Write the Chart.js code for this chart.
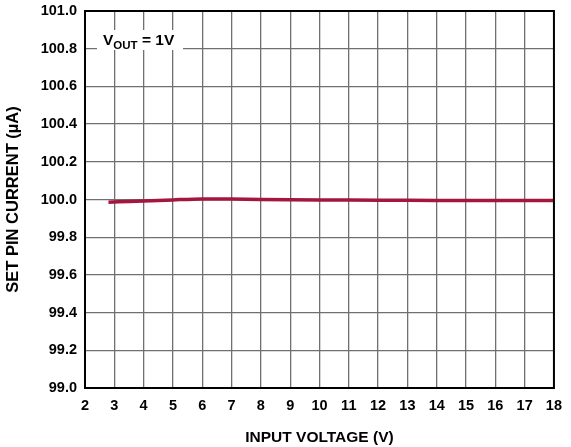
<!DOCTYPE html>
<html>
<head>
<meta charset="utf-8">
<script src="https://cdn.jsdelivr.net/npm/chart.js@4"></script>
<style>
  html, body { margin: 0; padding: 0; background: #fff; }
  #wrap { width: 571px; height: 447px; }
</style>
</head>
<body>
<div id="wrap"><canvas id="chart" width="571" height="447"></canvas></div>
<script>
// input voltage (V) vs set pin current (uA)
const inputVoltage = [2.8, 3.5, 4, 5, 6, 7, 8, 10, 12, 14, 16, 18];
const setPinCurrent = [99.986, 99.989, 99.992, 99.998, 100.003, 100.002, 100.0, 99.998, 99.996, 99.995, 99.995, 99.995];
const xTicks = [2, 3, 4, 5, 6, 7, 8, 9, 10, 11, 12, 13, 14, 15, 16, 17, 18];
const yTicks = [99.0, 99.2, 99.4, 99.6, 99.8, 100.0, 100.2, 100.4, 100.6, 100.8, 101.0];

const FONT = "'Liberation Sans', Arial, sans-serif";

// white box with V_OUT = 1V in the top-left corner
const noteLabel = {
  id: 'noteLabel',
  afterDraw(chart) {
    const ctx = chart.ctx;
    const a = chart.chartArea;
    const x0 = a.left + 12, y0 = a.top + 19;
    ctx.save();
    ctx.fillStyle = '#fff';
    ctx.fillRect(x0, y0, 86, 20);
    ctx.fillStyle = '#000';
    ctx.textBaseline = 'alphabetic';
    ctx.font = 'bold 15.5px ' + FONT;
    ctx.fillText('V', x0 + 6, y0 + 15);
    const vw = ctx.measureText('V').width;
    ctx.font = 'bold 11.5px ' + FONT;
    ctx.fillText('OUT', x0 + 6 + vw, y0 + 19);
    const ow = ctx.measureText('OUT').width;
    ctx.font = 'bold 15.5px ' + FONT;
    ctx.fillText(' = 1V', x0 + 6 + vw + ow, y0 + 15);
    ctx.restore();
  }
};

new Chart(document.getElementById('chart').getContext('2d'), {
  type: 'line',
  data: {
    datasets: [{
      data: inputVoltage.map((v, i) => ({ x: v, y: setPinCurrent[i] })),
      borderColor: '#a3173f',
      borderWidth: 3.5,
      pointRadius: 0,
      fill: false,
      tension: 0.3
    }]
  },
  options: {
    responsive: false,
    animation: false,
    layout: { padding: { top: 0, right: 15, left: 4, bottom: 0 } },
    plugins: { legend: { display: false }, tooltip: { enabled: false } },
    scales: {
      x: {
        type: 'linear',
        min: 2, max: 18,
        afterBuildTicks: s => { s.ticks = xTicks.map(v => ({ value: v })); },
        afterFit: s => { s.height = 59; },
        grid: { color: '#707070', lineWidth: 1.3, drawTicks: false },
        border: { color: '#000', width: 2 },
        ticks: { color: '#000', padding: 9, maxRotation: 0, font: { family: FONT, size: 14.5, weight: 'bold' } },
        title: { display: true, text: 'INPUT VOLTAGE (V)', color: '#000', padding: { top: 18, bottom: 0 }, font: { family: FONT, size: 15.5, weight: 'bold' } }
      },
      y: {
        min: 99.0, max: 101.0,
        afterBuildTicks: s => { s.ticks = yTicks.map(v => ({ value: v })); },
        afterFit: s => { s.width = 81; s.paddingTop = 11; s.paddingBottom = 0; },
        grid: { color: '#707070', lineWidth: 1.3, drawTicks: false },
        border: { color: '#000', width: 2 },
        ticks: { color: '#000', padding: 8, callback: v => v.toFixed(1), font: { family: FONT, size: 14.5, weight: 'bold' } },
        title: { display: true, text: 'SET PIN CURRENT (µA)', color: '#000', padding: 0, font: { family: FONT, size: 16.5, weight: 'bold' } }
      }
    }
  },
  plugins: [noteLabel, {
    id: 'frame',
    afterDraw(chart) {
      const a = chart.chartArea, ctx = chart.ctx;
      ctx.save();
      ctx.strokeStyle = '#000';
      ctx.lineWidth = 2;
      ctx.strokeRect(a.left, a.top, a.right - a.left, a.bottom - a.top);
      ctx.restore();
    }
  }]
});
</script>
</body>
</html>
